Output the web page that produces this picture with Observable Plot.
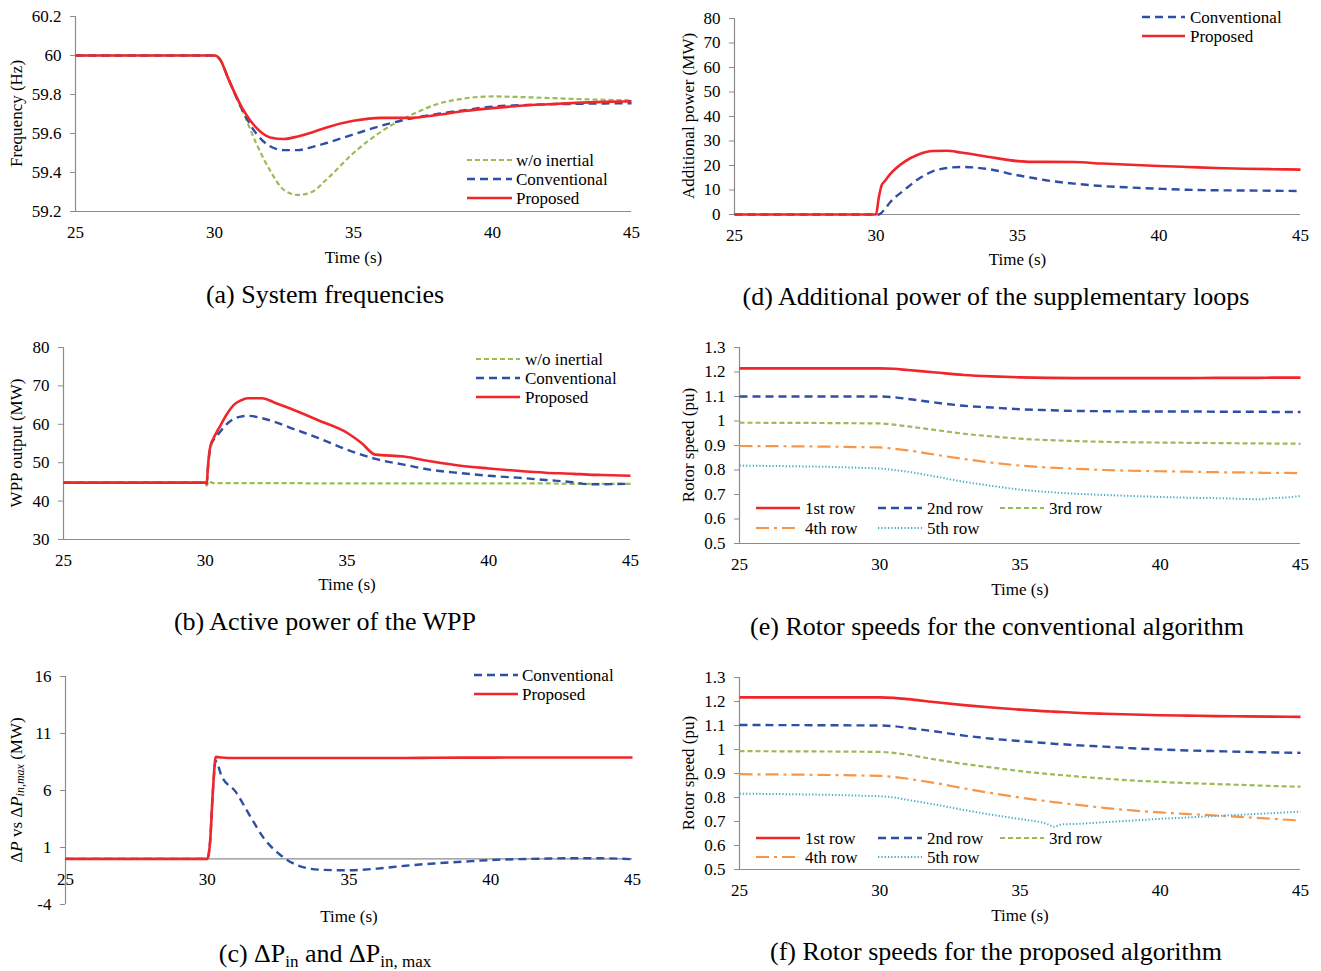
<!DOCTYPE html>
<html><head><meta charset="utf-8">
<script src="https://cdn.jsdelivr.net/npm/d3@7"></script>
<script src="https://cdn.jsdelivr.net/npm/@observablehq/plot@0.6"></script>
<style>
body{margin:0;background:#fff;}
#root{position:relative;width:1321px;height:971px;font-family:"Liberation Serif","Times New Roman",serif;color:#000;}
.panel{position:absolute;}
.cap{position:absolute;font-size:26px;white-space:nowrap;transform:translate(-50%,-50%);line-height:1;}
.cap sub{font-size:17px;vertical-align:-5px;}
</style></head><body><div id="root"></div>
<script>
// ---------- tick labels ----------
const timeTicks = [25, 30, 35, 40, 45];
const freqTicks = [59.2, 59.4, 59.6, 59.8, 60, 60.2];
const addPowTicks = [0, 10, 20, 30, 40, 50, 60, 70, 80];
const wppTicks = [30, 40, 50, 60, 70, 80];
const dpTicks = [-4, 1, 6, 11, 16];
const rotorTicks = [0.5, 0.6, 0.7, 0.8, 0.9, 1, 1.1, 1.2, 1.3];

// ---------- (a) System frequencies ----------
const aTime = [25, 30, 30.2, 30.5, 31, 31.5, 32, 32.5, 33, 33.5, 34, 35, 36, 37, 38, 39, 40, 41, 42, 43, 44, 45];
const aNoInertial = [60, 60, 59.98, 59.88, 59.72, 59.55, 59.41, 59.31, 59.285, 59.3, 59.36, 59.5, 59.61, 59.69, 59.75, 59.78, 59.79, 59.787, 59.782, 59.777, 59.773, 59.77];
const aConventional = [60, 60, 59.98, 59.88, 59.72, 59.6, 59.535, 59.515, 59.515, 59.53, 59.55, 59.595, 59.64, 59.675, 59.7, 59.72, 59.738, 59.745, 59.75, 59.752, 59.754, 59.755];
const aProposed = [60, 60, 59.98, 59.88, 59.73, 59.63, 59.58, 59.572, 59.585, 59.605, 59.63, 59.665, 59.68, 59.68, 59.695, 59.715, 59.73, 59.742, 59.75, 59.757, 59.762, 59.765];

// ---------- (d) Additional power ----------
const dTime = [25, 30, 30.1, 30.2, 30.3, 30.5, 31, 31.5, 32, 32.5, 33, 34, 35, 35.5, 36, 37, 38, 39, 40, 41, 42, 43, 44, 45];
const dConventional = [0, 0, 0, 0.8, 2, 5, 10, 14.5, 17.6, 19, 19.4, 18.5, 16, 15, 14, 12.6, 11.6, 11, 10.5, 10.1, 9.9, 9.8, 9.7, 9.6];
const dProposed = [0, 0, 7, 12, 13.5, 16.5, 21.5, 24.5, 25.9, 26, 25.3, 23.5, 21.8, 21.5, 21.5, 21.4, 20.8, 20.3, 19.8, 19.4, 19, 18.7, 18.5, 18.3];

// ---------- (b) Active power of the WPP ----------
const bTime = [25, 30, 30.05, 30.1, 30.15, 30.2, 30.3, 30.5, 30.75, 31, 31.25, 31.5, 32, 32.5, 33, 34, 35, 35.3, 35.5, 36, 37, 38, 39, 40, 41, 42, 43, 43.5, 44, 45];
const bNoInertial = [44.8, 44.8, 44.0, 44.9, 45.3, 44.9, 44.7, 44.7, 44.7, 44.7, 44.7, 44.7, 44.7, 44.7, 44.7, 44.6, 44.6, 44.6, 44.6, 44.6, 44.6, 44.6, 44.6, 44.6, 44.6, 44.6, 44.5, 44.5, 44.5, 44.5];
const bConventional = [44.8, 44.8, 44.5, 49, 52.5, 54.5, 56, 57.8, 60, 61.4, 62, 62.2, 61.6, 60.5, 59.1, 56.4, 53.4, 52.6, 52.1, 51, 49.5, 48.1, 47.3, 46.6, 46.1, 45.5, 44.9, 44.4, 44.4, 44.5];
const bProposed = [44.8, 44.8, 44.5, 49.5, 53, 54.8, 56.5, 59.2, 62.5, 65, 66.2, 66.8, 66.8, 65.5, 64.1, 61, 57.8, 56.3, 55.2, 52.1, 51.6, 50.3, 49.2, 48.5, 47.9, 47.4, 47.1, 46.9, 46.8, 46.6];

// ---------- (c) dP_in and dP_in,max ----------
const cTime = [25, 30, 30.1, 30.2, 30.3, 30.5, 31, 31.5, 32, 32.5, 33, 33.5, 34, 35, 36, 37, 38, 39, 40, 41, 42, 43, 44, 45];
const cConventional = [0, 0, 1.5, 6, 8.6, 7.3, 5.9, 3.8, 1.8, 0.5, -0.35, -0.8, -0.95, -1, -0.85, -0.6, -0.4, -0.25, -0.1, -0.02, 0.03, 0.06, 0.05, -0.03];
const cProposed = [0, 0, 1.5, 6, 8.95, 8.9, 8.85, 8.85, 8.85, 8.85, 8.85, 8.85, 8.85, 8.85, 8.85, 8.85, 8.87, 8.88, 8.88, 8.9, 8.9, 8.9, 8.9, 8.9];

// ---------- (e) Rotor speeds, conventional ----------
const eTime = [25, 30, 30.5, 31, 32, 33, 34, 35, 36, 37, 38, 39, 40, 41, 42, 43, 43.5, 44, 44.5, 45];
const eRow1 = [1.215, 1.215, 1.213, 1.208, 1.198, 1.188, 1.182, 1.178, 1.176, 1.175, 1.175, 1.175, 1.175, 1.175, 1.176, 1.176, 1.176, 1.177, 1.177, 1.177];
const eRow2 = [1.1, 1.1, 1.097, 1.09, 1.075, 1.062, 1.055, 1.048, 1.044, 1.041, 1.04, 1.039, 1.039, 1.039, 1.038, 1.038, 1.038, 1.037, 1.037, 1.037];
const eRow3 = [0.993, 0.99, 0.985, 0.978, 0.963, 0.948, 0.937, 0.928, 0.922, 0.918, 0.915, 0.913, 0.912, 0.911, 0.91, 0.909, 0.909, 0.908, 0.908, 0.907];
const eRow4 = [0.898, 0.892, 0.887, 0.88, 0.862, 0.845, 0.83, 0.818, 0.81, 0.805, 0.8, 0.797, 0.795, 0.793, 0.791, 0.79, 0.789, 0.788, 0.788, 0.787];
const eRow5 = [0.818, 0.806, 0.8, 0.793, 0.773, 0.752, 0.735, 0.72, 0.71, 0.703, 0.698, 0.694, 0.69, 0.687, 0.685, 0.682, 0.68, 0.685, 0.688, 0.694];

// ---------- (f) Rotor speeds, proposed ----------
const fTime = [25, 30, 30.5, 31, 32, 33, 34, 35, 36, 36.2, 36.5, 37, 38, 39, 40, 41, 42, 43, 44, 45];
const fRow1 = [1.217, 1.217, 1.215, 1.21, 1.197, 1.185, 1.175, 1.166, 1.159, 1.158, 1.156, 1.153, 1.149, 1.146, 1.143, 1.141, 1.139, 1.138, 1.137, 1.136];
const fRow2 = [1.102, 1.1, 1.097, 1.09, 1.075, 1.058, 1.045, 1.035, 1.026, 1.024, 1.022, 1.018, 1.012, 1.005, 1.0, 0.996, 0.993, 0.99, 0.988, 0.986];
const fRow3 = [0.993, 0.99, 0.986, 0.978, 0.958, 0.94, 0.925, 0.91, 0.898, 0.896, 0.893, 0.888, 0.879, 0.871, 0.865, 0.86, 0.856, 0.852, 0.848, 0.845];
const fRow4 = [0.897, 0.89, 0.886, 0.878, 0.86, 0.838, 0.818, 0.8, 0.784, 0.781, 0.777, 0.77, 0.757, 0.746, 0.738, 0.731, 0.725, 0.718, 0.711, 0.704];
const fRow5 = [0.816, 0.805, 0.8, 0.79, 0.77, 0.748, 0.728, 0.71, 0.688, 0.678, 0.688, 0.69, 0.697, 0.704, 0.711, 0.717, 0.723, 0.729, 0.735, 0.741];

// ---------- styles ----------
const AXIS = "#8c8c8c";
const FONT = "Liberation Serif, Times New Roman, serif";
const FS = 17;
const ST = {
  red:    {stroke: "#f0262b", strokeWidth: 2.6},
  blue:   {stroke: "#2f4ea5", strokeWidth: 2.4, strokeDasharray: "8,5"},
  green:  {stroke: "#9bbb59", strokeWidth: 2.2, strokeDasharray: "5,3"},
  orange: {stroke: "#f79646", strokeWidth: 2.2, strokeDasharray: "13,5,3,5"},
  cyan:   {stroke: "#4bacc6", strokeWidth: 2, strokeDasharray: "1.3,2"}
};

const root = document.getElementById("root");

function panel(cfg) {
  const {box, frame, yDomain, yTicks, yFmt, series, xAxisAt, timeY, ylabX, ylab, legend, caption} = cfg;
  const mL = frame.l - box.x, mR = box.x + box.w - frame.r;
  const mT = frame.t - box.y, mB = box.y + box.h - frame.b;
  const marks = [];
  const xLineY = xAxisAt ?? yDomain[0];
  marks.push(Plot.ruleY([xLineY], {x1: 25, x2: 45, stroke: AXIS, strokeWidth: 1.2}));
  marks.push(Plot.ruleX([25], {y1: yDomain[0], y2: yDomain[1], stroke: AXIS, strokeWidth: 1.2}));
  marks.push(Plot.axisY({ticks: yTicks, tickSize: 5, tickPadding: 9, stroke: AXIS, fill: "#000", tickFormat: yFmt, fontSize: FS, label: null}));
  if (xAxisAt === undefined) {
    marks.push(Plot.axisX({ticks: timeTicks, tickSize: 0, tickPadding: 14, fill: "#000", fontSize: FS, label: null}));
  } else {
    marks.push(Plot.text(timeTicks, {x: d => d, y: xAxisAt, dy: 21, text: d => String(d), fontSize: FS, fill: "#000"}));
  }
  for (const s of series) {
    const data = s.t.map((t, i) => ({t, v: s.v[i]}));
    marks.push(Plot.line(data, {x: "t", y: "v", curve: "monotone-x", strokeLinecap: "butt", ...ST[s.style]}));
  }
  marks.push(Plot.text(["Time (s)"], {frameAnchor: "bottom", lineAnchor: "middle", dy: timeY - frame.b, fontSize: FS, fill: "#000"}));
  const svg = Plot.plot({
    width: box.w, height: box.h,
    marginLeft: mL, marginRight: mR, marginTop: mT, marginBottom: mB,
    x: {domain: [25, 45], axis: null},
    y: {domain: yDomain, axis: null},
    style: {fontFamily: FONT, fontSize: FS + "px", background: "transparent", overflow: "visible"},
    marks
  });
  const s = d3.select(svg);
  // y label
  const yl = s.append("text")
    .attr("transform", `translate(${ylabX - box.x},${(frame.t + frame.b) / 2 - box.y}) rotate(-90)`)
    .attr("text-anchor", "middle").attr("dominant-baseline", "central")
    .attr("font-size", FS).attr("font-family", FONT).attr("fill", "#000");
  for (const seg of ylab) {
    const ts = yl.append("tspan").text(seg.t);
    if (seg.it) ts.attr("font-style", "italic");
    if (seg.sub) ts.attr("font-size", 12).attr("dy", 4);
    if (seg.up) ts.attr("dy", -4);
  }
  // legend
  for (const it of legend) {
    const st = ST[it.style];
    s.append("line").attr("x1", it.x1 - box.x).attr("x2", it.x2 - box.x)
      .attr("y1", it.y - box.y).attr("y2", it.y - box.y)
      .attr("stroke", st.stroke).attr("stroke-width", st.strokeWidth)
      .attr("stroke-dasharray", st.strokeDasharray || null);
    s.append("text").attr("x", it.tx - box.x).attr("y", it.y - box.y)
      .attr("text-anchor", "start")
      .attr("dominant-baseline", "central").attr("font-size", FS)
      .attr("font-family", FONT).attr("fill", "#000").text(it.label);
  }
  const wrap = document.createElement("div");
  wrap.className = "panel";
  wrap.style.left = box.x + "px"; wrap.style.top = box.y + "px";
  wrap.appendChild(svg);
  root.appendChild(wrap);
  const cap = document.createElement("div");
  cap.className = "cap";
  cap.style.left = caption.x + "px"; cap.style.top = caption.y + "px";
  cap.innerHTML = caption.html;
  root.appendChild(cap);
}

const fmt1 = d => String(+d.toFixed(1));
const fmt0 = d => String(d);

// (a)
panel({
  box: {x: 0, y: 0, w: 660, h: 275},
  frame: {l: 75, r: 631, t: 16, b: 211},
  yDomain: [59.2, 60.2], yTicks: freqTicks, yFmt: fmt1,
  series: [
    {t: aTime, v: aNoInertial, style: "green"},
    {t: aTime, v: aConventional, style: "blue"},
    {t: aTime, v: aProposed, style: "red"}
  ],
  timeY: 257, ylabX: 16, ylab: [{t: "Frequency (Hz)"}],
  legend: [
    {x1: 467, x2: 512, tx: 516, y: 160, style: "green", label: "w/o inertial"},
    {x1: 467, x2: 512, tx: 516, y: 179, style: "blue", label: "Conventional"},
    {x1: 467, x2: 512, tx: 516, y: 198, style: "red", label: "Proposed"}
  ],
  caption: {x: 325, y: 295, html: "(a) System frequencies"}
});

// (d)
panel({
  box: {x: 660, y: 0, w: 661, h: 275},
  frame: {l: 734, r: 1300, t: 18, b: 214},
  yDomain: [0, 80], yTicks: addPowTicks, yFmt: fmt0,
  series: [
    {t: dTime, v: dConventional, style: "blue"},
    {t: dTime, v: dProposed, style: "red"}
  ],
  timeY: 259, ylabX: 688, ylab: [{t: "Additional power (MW)"}],
  legend: [
    {x1: 1142, x2: 1185, tx: 1190, y: 17, style: "blue", label: "Conventional"},
    {x1: 1142, x2: 1185, tx: 1190, y: 36, style: "red", label: "Proposed"}
  ],
  caption: {x: 996, y: 297, html: "(d) Additional power of the supplementary loops"}
});

// (b)
panel({
  box: {x: 0, y: 330, w: 660, h: 275},
  frame: {l: 63, r: 630, t: 347, b: 539},
  yDomain: [30, 80], yTicks: wppTicks, yFmt: fmt0,
  series: [
    {t: bTime, v: bNoInertial, style: "green"},
    {t: bTime, v: bConventional, style: "blue"},
    {t: bTime, v: bProposed, style: "red"}
  ],
  timeY: 584, ylabX: 16, ylab: [{t: "WPP output (MW)"}],
  legend: [
    {x1: 476, x2: 520, tx: 525, y: 359, style: "green", label: "w/o inertial"},
    {x1: 476, x2: 520, tx: 525, y: 378, style: "blue", label: "Conventional"},
    {x1: 476, x2: 520, tx: 525, y: 397, style: "red", label: "Proposed"}
  ],
  caption: {x: 325, y: 622, html: "(b) Active power of the WPP"}
});

// (e)
panel({
  box: {x: 660, y: 330, w: 661, h: 275},
  frame: {l: 739, r: 1300, t: 347, b: 543},
  yDomain: [0.5, 1.3], yTicks: rotorTicks, yFmt: fmt1,
  series: [
    {t: eTime, v: eRow1, style: "red"},
    {t: eTime, v: eRow2, style: "blue"},
    {t: eTime, v: eRow3, style: "green"},
    {t: eTime, v: eRow4, style: "orange"},
    {t: eTime, v: eRow5, style: "cyan"}
  ],
  timeY: 589, ylabX: 688, ylab: [{t: "Rotor speed (pu)"}],
  legend: [
    {x1: 756, x2: 800, tx: 805, y: 508, style: "red", label: "1st row"},
    {x1: 878, x2: 922, tx: 927, y: 508, style: "blue", label: "2nd row"},
    {x1: 1000, x2: 1044, tx: 1049, y: 508, style: "green", label: "3rd row"},
    {x1: 756, x2: 800, tx: 805, y: 528, style: "orange", label: "4th row"},
    {x1: 878, x2: 922, tx: 927, y: 528, style: "cyan", label: "5th row"}
  ],
  caption: {x: 997, y: 627, html: "(e) Rotor speeds for the conventional algorithm"}
});

// (c)
panel({
  box: {x: 0, y: 655, w: 660, h: 280},
  frame: {l: 65, r: 632, t: 676, b: 904},
  yDomain: [-4, 16], yTicks: dpTicks, yFmt: fmt0, xAxisAt: 0,
  series: [
    {t: cTime, v: cConventional, style: "blue"},
    {t: cTime, v: cProposed, style: "red"}
  ],
  timeY: 916, ylabX: 16,
  ylab: [{t: "Δ"}, {t: "P", it: true}, {t: " vs Δ"}, {t: "P", it: true}, {t: "in,max", it: true, sub: true}, {t: " (MW)", up: true}],
  legend: [
    {x1: 474, x2: 518, tx: 522, y: 675, style: "blue", label: "Conventional"},
    {x1: 474, x2: 518, tx: 522, y: 694, style: "red", label: "Proposed"}
  ],
  caption: {x: 325, y: 955, html: "(c) ΔP<sub>in</sub> and ΔP<sub>in, max</sub>"}
});

// (f)
panel({
  box: {x: 660, y: 655, w: 661, h: 280},
  frame: {l: 739, r: 1300, t: 677, b: 869},
  yDomain: [0.5, 1.3], yTicks: rotorTicks, yFmt: fmt1,
  series: [
    {t: fTime, v: fRow1, style: "red"},
    {t: fTime, v: fRow2, style: "blue"},
    {t: fTime, v: fRow3, style: "green"},
    {t: fTime, v: fRow4, style: "orange"},
    {t: fTime, v: fRow5, style: "cyan"}
  ],
  timeY: 915, ylabX: 688, ylab: [{t: "Rotor speed (pu)"}],
  legend: [
    {x1: 756, x2: 800, tx: 805, y: 838, style: "red", label: "1st row"},
    {x1: 878, x2: 922, tx: 927, y: 838, style: "blue", label: "2nd row"},
    {x1: 1000, x2: 1044, tx: 1049, y: 838, style: "green", label: "3rd row"},
    {x1: 756, x2: 800, tx: 805, y: 857, style: "orange", label: "4th row"},
    {x1: 878, x2: 922, tx: 927, y: 857, style: "cyan", label: "5th row"}
  ],
  caption: {x: 996, y: 952, html: "(f) Rotor speeds for the proposed algorithm"}
});
</script>
</body></html>
